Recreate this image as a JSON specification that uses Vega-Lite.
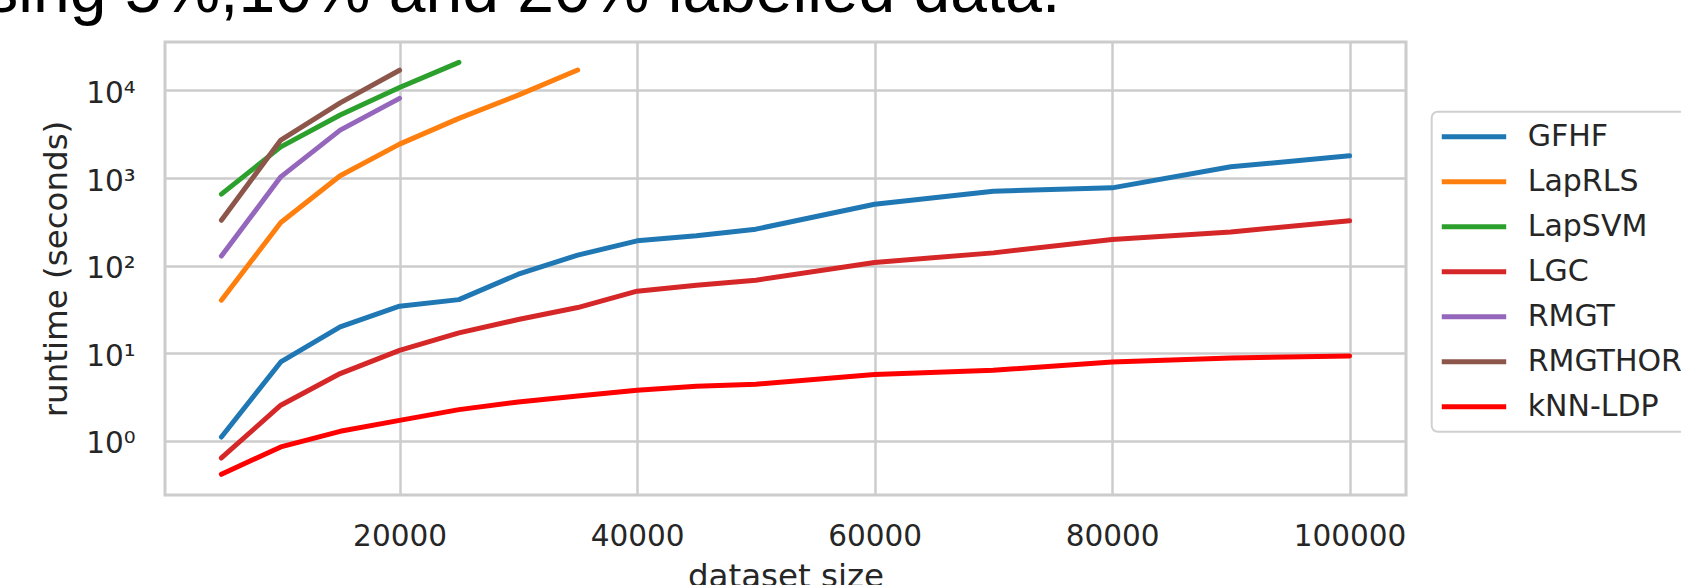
{
  "$schema": "https://vega.github.io/schema/vega-lite/v6.json",
  "width": 1241,
  "height": 453,
  "autosize": {"type": "none"},
  "padding": {"left": 165, "top": 42, "right": 275, "bottom": 90},
  "background": "white",
  "title": {"text": "sing 5%,10% and 20% labelled data.", "anchor": "start", "frame": "group", "font": "Liberation Sans", "fontSize": 66, "fontWeight": "normal", "color": "black", "baseline": "alphabetic", "offset": -36, "dx": -179.7},
  "config": {
    "view": {"stroke": "#cccccc", "strokeWidth": 3},
    "axis": {"domain": false, "ticks": false, "tickSize": 0, "gridColor": "#cccccc", "gridWidth": 2.5, "labelFont": "DejaVu Sans", "labelFontSize": 29.5, "labelColor": "#262626", "titleFont": "DejaVu Sans", "titleFontSize": 32.5, "titleColor": "#262626", "titleFontWeight": "normal"},
    "legend": {"padding": 10, "fillColor": "white", "strokeColor": "#d0d0d0", "strokeWidth": 2, "cornerRadius": 6, "symbolType": "stroke", "symbolSize": 4225, "symbolStrokeWidth": 5, "symbolOffset": -3, "labelFont": "DejaVu Sans", "labelFontSize": 30, "labelColor": "#262626", "labelOffset": 19, "clipHeight": 30, "rowPadding": 15, "labelLimit": 400}
  },
  "data": {"values": [
    {"method": "GFHF", "size": 5000, "runtime": 1.11},
    {"method": "GFHF", "size": 10000, "runtime": 7.98},
    {"method": "GFHF", "size": 15000, "runtime": 20},
    {"method": "GFHF", "size": 20000, "runtime": 34.5},
    {"method": "GFHF", "size": 25000, "runtime": 41},
    {"method": "GFHF", "size": 30000, "runtime": 80},
    {"method": "GFHF", "size": 35000, "runtime": 132},
    {"method": "GFHF", "size": 40000, "runtime": 192},
    {"method": "GFHF", "size": 45000, "runtime": 219},
    {"method": "GFHF", "size": 50000, "runtime": 261},
    {"method": "GFHF", "size": 60000, "runtime": 503},
    {"method": "GFHF", "size": 70000, "runtime": 708},
    {"method": "GFHF", "size": 80000, "runtime": 773},
    {"method": "GFHF", "size": 90000, "runtime": 1343},
    {"method": "GFHF", "size": 100000, "runtime": 1792},
    {"method": "LapRLS", "size": 5000, "runtime": 40.4},
    {"method": "LapRLS", "size": 10000, "runtime": 311},
    {"method": "LapRLS", "size": 15000, "runtime": 1060},
    {"method": "LapRLS", "size": 20000, "runtime": 2440},
    {"method": "LapRLS", "size": 25000, "runtime": 4790},
    {"method": "LapRLS", "size": 30000, "runtime": 8840},
    {"method": "LapRLS", "size": 35000, "runtime": 17060},
    {"method": "LapSVM", "size": 5000, "runtime": 655},
    {"method": "LapSVM", "size": 10000, "runtime": 2270},
    {"method": "LapSVM", "size": 15000, "runtime": 5230},
    {"method": "LapSVM", "size": 20000, "runtime": 10800},
    {"method": "LapSVM", "size": 25000, "runtime": 20900},
    {"method": "LGC", "size": 5000, "runtime": 0.64},
    {"method": "LGC", "size": 10000, "runtime": 2.56},
    {"method": "LGC", "size": 15000, "runtime": 5.88},
    {"method": "LGC", "size": 20000, "runtime": 10.8},
    {"method": "LGC", "size": 25000, "runtime": 17.1},
    {"method": "LGC", "size": 30000, "runtime": 24.3},
    {"method": "LGC", "size": 35000, "runtime": 33.3},
    {"method": "LGC", "size": 40000, "runtime": 51.2},
    {"method": "LGC", "size": 45000, "runtime": 59.8},
    {"method": "LGC", "size": 50000, "runtime": 68.3},
    {"method": "LGC", "size": 60000, "runtime": 109},
    {"method": "LGC", "size": 70000, "runtime": 140},
    {"method": "LGC", "size": 80000, "runtime": 199},
    {"method": "LGC", "size": 90000, "runtime": 243},
    {"method": "LGC", "size": 100000, "runtime": 325},
    {"method": "RMGT", "size": 5000, "runtime": 129},
    {"method": "RMGT", "size": 10000, "runtime": 1032},
    {"method": "RMGT", "size": 15000, "runtime": 3520},
    {"method": "RMGT", "size": 20000, "runtime": 8110},
    {"method": "RMGTHOR", "size": 5000, "runtime": 330},
    {"method": "RMGTHOR", "size": 10000, "runtime": 2710},
    {"method": "RMGTHOR", "size": 15000, "runtime": 7210},
    {"method": "RMGTHOR", "size": 20000, "runtime": 17000},
    {"method": "kNN-LDP", "size": 5000, "runtime": 0.417},
    {"method": "kNN-LDP", "size": 10000, "runtime": 0.855},
    {"method": "kNN-LDP", "size": 15000, "runtime": 1.29},
    {"method": "kNN-LDP", "size": 20000, "runtime": 1.72},
    {"method": "kNN-LDP", "size": 25000, "runtime": 2.28},
    {"method": "kNN-LDP", "size": 30000, "runtime": 2.79},
    {"method": "kNN-LDP", "size": 35000, "runtime": 3.26},
    {"method": "kNN-LDP", "size": 40000, "runtime": 3.79},
    {"method": "kNN-LDP", "size": 45000, "runtime": 4.21},
    {"method": "kNN-LDP", "size": 50000, "runtime": 4.44},
    {"method": "kNN-LDP", "size": 60000, "runtime": 5.73},
    {"method": "kNN-LDP", "size": 70000, "runtime": 6.41},
    {"method": "kNN-LDP", "size": 80000, "runtime": 7.98},
    {"method": "kNN-LDP", "size": 90000, "runtime": 8.87},
    {"method": "kNN-LDP", "size": 100000, "runtime": 9.34}
  ]},
  "mark": {"type": "line", "strokeWidth": 5, "strokeCap": "round", "strokeJoin": "round"},
  "encoding": {
    "x": {"field": "size", "type": "quantitative",
      "scale": {"domain": [250, 104750], "nice": false, "zero": false},
      "axis": {"values": [20000, 40000, 60000, 80000, 100000], "format": "d", "title": "dataset size", "labelBaseline": "alphabetic", "labelPadding": 50, "labelFlush": false, "titleBaseline": "alphabetic", "titleY": 91, "titleX": 620.5}},
    "y": {"field": "runtime", "type": "quantitative",
      "scale": {"type": "log", "domain": [0.242, 35650], "nice": false},
      "axis": {"values": [1, 10, 100, 1000, 10000], "labelExpr": "datum.value == 1 ? '10⁰' : datum.value == 10 ? '10¹' : datum.value == 100 ? '10²' : datum.value == 1000 ? '10³' : '10⁴'", "title": "runtime (seconds)", "labelBaseline": "alphabetic", "labelOffset": 12, "labelPadding": 30, "titleX": -98.3, "titleY": 226.5, "titleAngle": 270, "titleBaseline": "alphabetic", "titleAlign": "center"}},
    "color": {"field": "method", "type": "nominal",
      "scale": {"domain": ["GFHF", "LapRLS", "LapSVM", "LGC", "RMGT", "RMGTHOR", "kNN-LDP"], "range": ["#1f77b4", "#ff7f0e", "#2ca02c", "#d62728", "#9467bd", "#8c564b", "#ff0000"]},
      "legend": {"title": null, "orient": "none", "legendX": 1266.7, "legendY": 69.7}}
  }
}
